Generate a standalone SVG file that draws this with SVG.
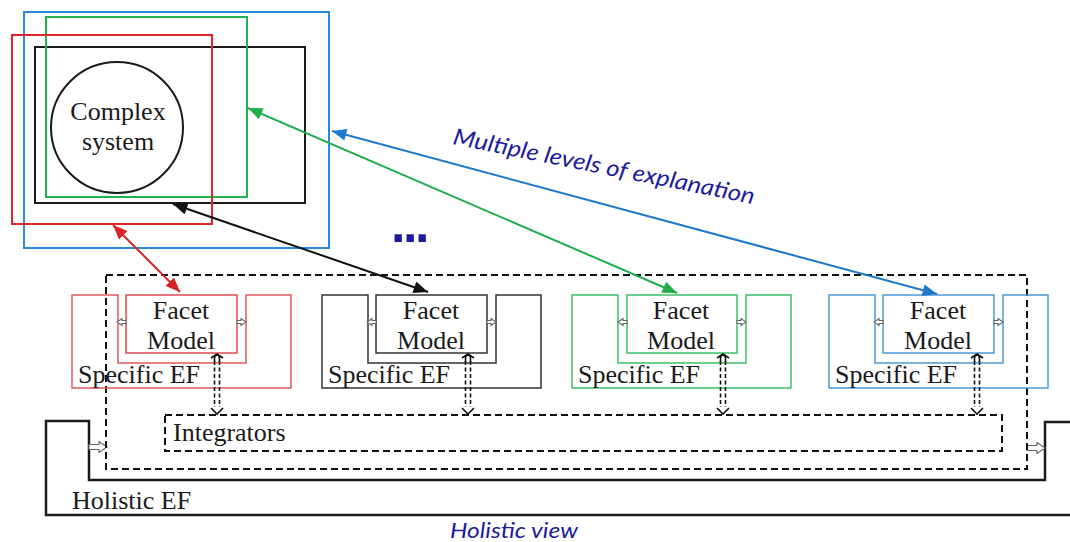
<svg xmlns="http://www.w3.org/2000/svg" xmlns:xlink="http://www.w3.org/1999/xlink" width="1070" height="542" viewBox="0 0 1070 542">
<style>
  .serif { font-family: "Liberation Serif", "Times New Roman", serif; font-size: 26px; fill: #1a1a1a; }
  .note { font-family: Lato, "Open Sans", "Liberation Sans", sans-serif; font-style: italic; fill: #1c1c9c; }
  .dash { fill: none; stroke: #111; stroke-width: 2; stroke-dasharray: 7 4; }
  .frame { fill: none; stroke-width: 2; }
  .ef { fill: none; stroke-width: 1.5; }
  .hollow { fill: #fff; stroke: #666; stroke-width: 1.1; }
  .conn { fill: none; stroke-width: 2; }
</style>
<defs>
  <marker id="ah-red" viewBox="0 0 12 10" refX="12" refY="5" markerWidth="16" markerHeight="12" markerUnits="userSpaceOnUse" orient="auto-start-reverse"><path d="M0,0 L12,5 L0,10 Z" fill="#d8222a"/></marker>
  <marker id="ah-black" viewBox="0 0 12 10" refX="12" refY="5" markerWidth="16" markerHeight="12" markerUnits="userSpaceOnUse" orient="auto-start-reverse"><path d="M0,0 L12,5 L0,10 Z" fill="#111"/></marker>
  <marker id="ah-green" viewBox="0 0 12 10" refX="12" refY="5" markerWidth="16" markerHeight="12" markerUnits="userSpaceOnUse" orient="auto-start-reverse"><path d="M0,0 L12,5 L0,10 Z" fill="#1fae4b"/></marker>
  <marker id="ah-blue" viewBox="0 0 12 10" refX="12" refY="5" markerWidth="16" markerHeight="12" markerUnits="userSpaceOnUse" orient="auto-start-reverse"><path d="M0,0 L12,5 L0,10 Z" fill="#1f78cc"/></marker>
  <path id="small-arrow" d="M0,-1.5 H4 V-3.5 L9,0 L4,3.5 V1.5 H0 Z"/>
  <path id="big-arrow" d="M0,-2.5 H10 V-5.5 L18,0 L10,5.5 V2.5 H0 Z"/>
  <g id="dbl-arrow" fill="none" stroke="#111" stroke-width="1.6">
    <path d="M-2.5,361 V407" stroke-dasharray="4 2.5"/>
    <path d="M2.5,361 V407" stroke-dasharray="4 2.5"/>
    <path d="M-2.5,362 V358.5 Q-2.5,355 0,355 Q2.5,355 2.5,358.5 V362"/>
    <path d="M-6,358 L0,354 L6,358"/>
    <path d="M-6,408 L0,414 L6,408"/>
  </g>
</defs>

<!-- Holistic EF -->
<g id="holistic-ef">
  <path d="M1072,422 H1045 V480 H89 V421 H46 V515 H1072" fill="none" stroke="#1a1a1a" stroke-width="2.5"/>
  <text class="serif" x="72" y="509">Holistic EF</text>
  <use href="#big-arrow" class="hollow" transform="translate(89,447)"/>
  <use href="#big-arrow" class="hollow" transform="translate(1027,448)"/>
</g>

<!-- Dashed container -->
<g id="container">
  <rect class="dash" x="106" y="275" width="921" height="194"/>
</g>

<!-- Integrators -->
<g id="integrators">
  <rect class="dash" x="165" y="415" width="837" height="36"/>
  <text class="serif" x="173" y="441">Integrators</text>
</g>

<!-- Complex system frames -->
<g id="complex-system">
  <rect class="frame" x="24" y="12" width="305" height="236" stroke="#2a8ad8"/>
  <rect class="frame" x="35" y="47" width="270" height="156" stroke="#1a1a1a"/>
  <rect class="frame" x="46" y="17" width="201" height="180" stroke="#22b14c"/>
  <rect class="frame" x="12" y="35" width="200" height="189" stroke="#e0262b"/>
  <ellipse cx="117" cy="127.5" rx="66" ry="65.5" fill="none" stroke="#1a1a1a" stroke-width="2"/>
  <text class="serif" x="118" y="120" text-anchor="middle" font-size="27">Complex</text>
  <text class="serif" x="118" y="150" text-anchor="middle" font-size="27">system</text>
</g>

<!-- Specific EF groups -->
<g id="ef-red">
  <path class="ef" d="M72,295 H118 V363 H246 V295 H291 V388 H72 Z" stroke="#e25a5e"/>
  <rect class="ef" x="126" y="295" width="111" height="58" stroke="#e04a50"/>
  <text class="serif" x="181" y="319" text-anchor="middle">Facet</text>
  <text class="serif" x="181" y="349" text-anchor="middle">Model</text>
  <text class="serif" x="78" y="383">Specific EF</text>
  <use href="#small-arrow" class="hollow" transform="translate(126,322) scale(-1,1)"/>
  <use href="#small-arrow" class="hollow" transform="translate(237,322)"/>
  <use href="#dbl-arrow" transform="translate(217,0)"/>
</g>
<g id="ef-black">
  <path class="ef" d="M322,295 H368 V363 H496 V295 H541 V388 H322 Z" stroke="#333"/>
  <rect class="ef" x="376" y="295" width="111" height="58" stroke="#333"/>
  <text class="serif" x="431" y="319" text-anchor="middle">Facet</text>
  <text class="serif" x="431" y="349" text-anchor="middle">Model</text>
  <text class="serif" x="328" y="383">Specific EF</text>
  <use href="#small-arrow" class="hollow" transform="translate(376,322) scale(-1,1)"/>
  <use href="#small-arrow" class="hollow" transform="translate(487,322)"/>
  <use href="#dbl-arrow" transform="translate(468,0)"/>
</g>
<g id="ef-green">
  <path class="ef" d="M572,295 H618 V363 H746 V295 H791 V388 H572 Z" stroke="#3cc06a"/>
  <rect class="ef" x="627" y="295" width="110" height="58" stroke="#3cc06a"/>
  <text class="serif" x="681" y="319" text-anchor="middle">Facet</text>
  <text class="serif" x="681" y="349" text-anchor="middle">Model</text>
  <text class="serif" x="578" y="383">Specific EF</text>
  <use href="#small-arrow" class="hollow" transform="translate(627,322) scale(-1,1)"/>
  <use href="#small-arrow" class="hollow" transform="translate(737,322)"/>
  <use href="#dbl-arrow" transform="translate(723,0)"/>
</g>
<g id="ef-blue">
  <path class="ef" d="M829,295 H875 V363 H1003 V295 H1048 V388 H829 Z" stroke="#4a9ad8"/>
  <rect class="ef" x="883" y="295" width="111" height="58" stroke="#4a9ad8"/>
  <text class="serif" x="938" y="319" text-anchor="middle">Facet</text>
  <text class="serif" x="938" y="349" text-anchor="middle">Model</text>
  <text class="serif" x="835" y="383">Specific EF</text>
  <use href="#small-arrow" class="hollow" transform="translate(883,322) scale(-1,1)"/>
  <use href="#small-arrow" class="hollow" transform="translate(994,322)"/>
  <use href="#dbl-arrow" transform="translate(977,0)"/>
</g>

<!-- Connectors -->
<g id="connectors">
  <line class="conn" x1="113" y1="225" x2="180" y2="292" stroke="#d8222a" marker-start="url(#ah-red)" marker-end="url(#ah-red)"/>
  <line class="conn" x1="173" y1="204" x2="428" y2="292" stroke="#111" marker-start="url(#ah-black)" marker-end="url(#ah-black)"/>
  <line class="conn" x1="248" y1="108" x2="677" y2="293" stroke="#1fae4b" marker-start="url(#ah-green)" marker-end="url(#ah-green)"/>
  <line class="conn" x1="332" y1="131" x2="937" y2="294" stroke="#1f78cc" marker-start="url(#ah-blue)" marker-end="url(#ah-blue)"/>
</g>

<!-- Annotations -->
<g id="annotations">
  <text class="note" font-size="23" transform="translate(452,144) rotate(11.3)" textLength="307" lengthAdjust="spacingAndGlyphs">Multiple levels of explanation</text>
  <text x="391" y="242" font-family="Liberation Sans, Arial, sans-serif" font-weight="bold" font-size="52" fill="#1c1c9c" letter-spacing="-2.5">...</text>
  <text class="note" font-size="22" x="450" y="538" textLength="128" lengthAdjust="spacingAndGlyphs">Holistic view</text>
</g>
</svg>
